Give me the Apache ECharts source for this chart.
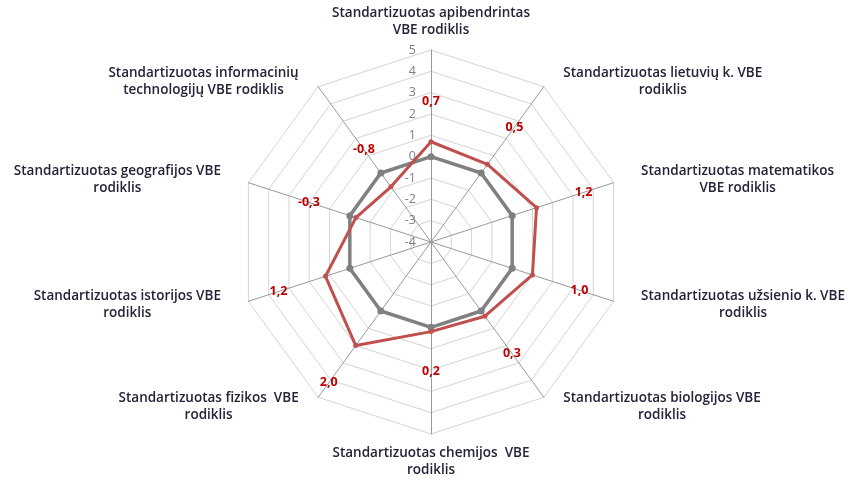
<!DOCTYPE html>
<html>
<head>
<meta charset="utf-8">
<script src="https://cdn.jsdelivr.net/npm/echarts@6/dist/echarts.min.js"></script>
<style>
  html, body { margin: 0; padding: 0; background: #fff; }
  #chart { width: 850px; height: 483px; }
</style>
</head>
<body>
<div id="chart"></div>
<script>
// axes, read clockwise from the top
const axisNames = [
    'Standartizuotas apibendrintas\nVBE rodiklis',
    'Standartizuotas lietuvių k. VBE\nrodiklis',
    'Standartizuotas matematikos\nVBE rodiklis',
    'Standartizuotas užsienio k. VBE\nrodiklis',
    'Standartizuotas biologijos VBE\nrodiklis',
    'Standartizuotas chemijos  VBE\nrodiklis',
    'Standartizuotas fizikos  VBE\nrodiklis',
    'Standartizuotas istorijos VBE\nrodiklis',
    'Standartizuotas geografijos VBE\nrodiklis',
    'Standartizuotas informacinių\ntechnologijų VBE rodiklis'
];
const zeroLine = [0, 0, 0, 0, 0, 0, 0, 0, 0, 0];
const schoolValues = [0.7, 0.5, 1.2, 1.0, 0.3, 0.2, 2.0, 1.2, -0.3, -0.8];
const axisMin = -4;
const axisMax = 5;

const CX = 431, CY = 242;
const NAME_FONT = { color: '#23233a', fontFamily: 'Open Sans', fontSize: 13.5, fontWeight: 600, lineHeight: 17 };

// echarts lays indicators out counter-clockwise, so walk the lists backwards after the first
const order = [0].concat(axisNames.map((_, i) => i).slice(1).reverse());

// push side names a little further away from the web, sideways only
function namePadding(k) {
    const ang = Math.PI / 2 + 2 * Math.PI * k / order.length;
    const c = Math.cos(ang), s = Math.sin(ang);
    if (Math.abs(c) < 0.1) return 0;
    const side = Math.round(8 + 9 * Math.abs(c));
    const top = s > 0.5 ? 7 : 0;
    return c > 0 ? [top, 0, 0, side] : [top, side, 0, 0];
}

const chart = echarts.init(document.getElementById('chart'), null, { renderer: 'canvas' });

chart.setOption({
    backgroundColor: '#fff',
    animation: false,
    radar: {
        center: [CX, CY],
        radius: 192,
        startAngle: 90,
        shape: 'polygon',
        splitNumber: 9,
        nameGap: 11,
        axisName: Object.assign({}, NAME_FONT, {
            formatter: name => name.split('\n').map(l => '{c|' + l + '}').join('\n'),
            rich: { c: Object.assign({ align: 'center' }, NAME_FONT) }
        }),
        axisLine: { lineStyle: { color: '#999', width: 1 } },
        splitLine: { lineStyle: { color: '#d4d4d4', width: 1 } },
        splitArea: { show: false },
        axisTick: { show: false },
        axisLabel: { show: false },
        indicator: order.map((i, k) => ({
            name: axisNames[i],
            min: axisMin,
            max: axisMax,
            nameTextStyle: { padding: namePadding(k) },
            axisLabel: k === 0 ? {
                show: true,
                color: '#7f7f7f',
                fontFamily: 'Open Sans',
                fontSize: 12.5,
                align: 'right',
                margin: 15,
                showMinLabel: true,
                showMaxLabel: true
            } : { show: false }
        }))
    },
    series: [
        {
            type: 'radar',
            z: 2,
            symbol: 'circle',
            symbolSize: 7,
            lineStyle: { color: '#808080', width: 3.5 },
            itemStyle: { color: '#808080' },
            label: { show: false },
            data: [{ name: 'Nulis', value: order.map(i => zeroLine[i]) }]
        },
        {
            type: 'radar',
            z: 3,
            symbol: 'circle',
            symbolSize: 5,
            lineStyle: { color: '#c0504d', width: 3 },
            itemStyle: { color: '#c0504d' },
            label: {
                show: true,
                position: 'inside',
                color: '#c00000',
                fontFamily: 'Open Sans',
                fontSize: 12.5,
                fontWeight: 700,
                formatter: p => {
                    const v = Array.isArray(p.value) ? p.value[0] : p.value;
                    return Number(v).toFixed(1).replace('.', ',');
                }
            },
            labelLayout: params => {
                const r = params.rect;
                const px = r.x + r.width / 2;
                const py = r.y + r.height / 2;
                const ang = Math.atan2(py - CY, px - CX);
                const d = 40 + 10 * Math.abs(Math.cos(ang));
                return { dx: Math.cos(ang) * d, dy: Math.sin(ang) * d };
            },
            data: [{ name: 'Mokykla', value: order.map(i => schoolValues[i]) }]
        }
    ]
});
</script>
</body>
</html>
